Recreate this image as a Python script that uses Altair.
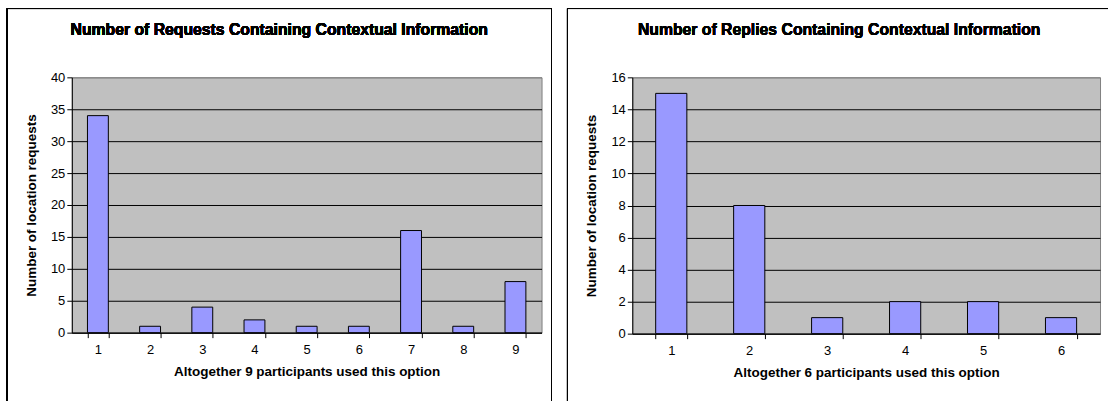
import altair as alt
import pandas as pd

# ---- data ----
req_participants = ["1", "2", "3", "4", "5", "6", "7", "8", "9"]
req_counts = [34, 1, 4, 2, 1, 1, 16, 1, 8]
rep_participants = ["1", "2", "3", "4", "5", "6"]
rep_counts = [15, 8, 1, 2, 2, 1]

titles = ["Number of Requests Containing Contextual Information",
          "Number of Replies Containing Contextual Information"]
x_titles = ["Altogether 9 participants used this option",
            "Altogether 6 participants used this option"]
y_title = "Number of location requests"

FONT = "Liberation Sans"


def panel(cats, vals, title, xtitle, ymax, ystep, width, height, right_rule, closed):
    df = pd.DataFrame({"p": cats, "n": vals})
    base = alt.Chart(df)
    bars = base.mark_bar(color="#9999FF", stroke="black", strokeWidth=1).encode(
        x=alt.X("p:O", sort=cats,
                scale=alt.Scale(paddingInner=0.6, paddingOuter=0.3),
                axis=alt.Axis(title=xtitle, labelAngle=0, tickBand="extent",
                              tickSize=5, tickColor="black", domainColor="black",
                              labelPadding=6, titlePadding=8,
                              labelFontSize=13, titleFontSize=13.5,
                              titleFontWeight="bold", labelColor="black",
                              titleColor="black", labelFont=FONT, titleFont=FONT)),
        y=alt.Y("n:Q",
                scale=alt.Scale(domain=[0, ymax], nice=False),
                axis=alt.Axis(title=y_title, values=list(range(0, ymax + 1, ystep)),
                              tickSize=5, tickColor="black", domainColor="black",
                              grid=True,
                              gridColor=alt.condition(f"datum.value == {ymax}",
                                                      alt.value("#808080"),
                                                      alt.value("black")),
                              labelPadding=2, titlePadding=12,
                              labelFontSize=13, titleFontSize=13.5,
                              titleFontWeight="bold", labelColor="black",
                              titleColor="black", labelFont=FONT, titleFont=FONT)),
    )
    top = -69
    left = -65
    bottom = 330
    rules = [
        base.mark_rule(color="black", strokeWidth=1).encode(
            x=alt.value(left), x2=alt.value(right_rule), y=alt.value(top)),
        base.mark_rule(color="black", strokeWidth=1).encode(
            x=alt.value(left), y=alt.value(top), y2=alt.value(bottom)),
    ]
    if closed:
        rules.append(base.mark_rule(color="black", strokeWidth=1).encode(
            x=alt.value(right_rule), y=alt.value(top), y2=alt.value(bottom)))
        cx = (left + right_rule) / 2
    else:
        cx = (left + right_rule + 3) / 2
    ttl = base.mark_text(font=FONT, fontSize=15.8, fontWeight="bold",
                         color="black", align="center", baseline="middle").encode(
        x=alt.value(cx),
        y=alt.value(-47),
        text=alt.value(title))
    return alt.layer(*rules, bars, ttl).properties(width=width, height=height)


left_chart = panel(req_participants, req_counts, titles[0], x_titles[0],
                   40, 5, 471, 256, 481, True)
right_chart = panel(rep_participants, rep_counts, titles[1], x_titles[1],
                    16, 2, 469, 257, 477, False)

chart = alt.hconcat(left_chart, right_chart, spacing=14).properties(
    padding={"left": 6, "top": 7, "right": 0, "bottom": 0},
    background="white",
).configure_view(stroke="#808080", strokeWidth=1, fill="#C0C0C0")

chart.save("out.html", embed_options={"renderer": "svg", "actions": False})
